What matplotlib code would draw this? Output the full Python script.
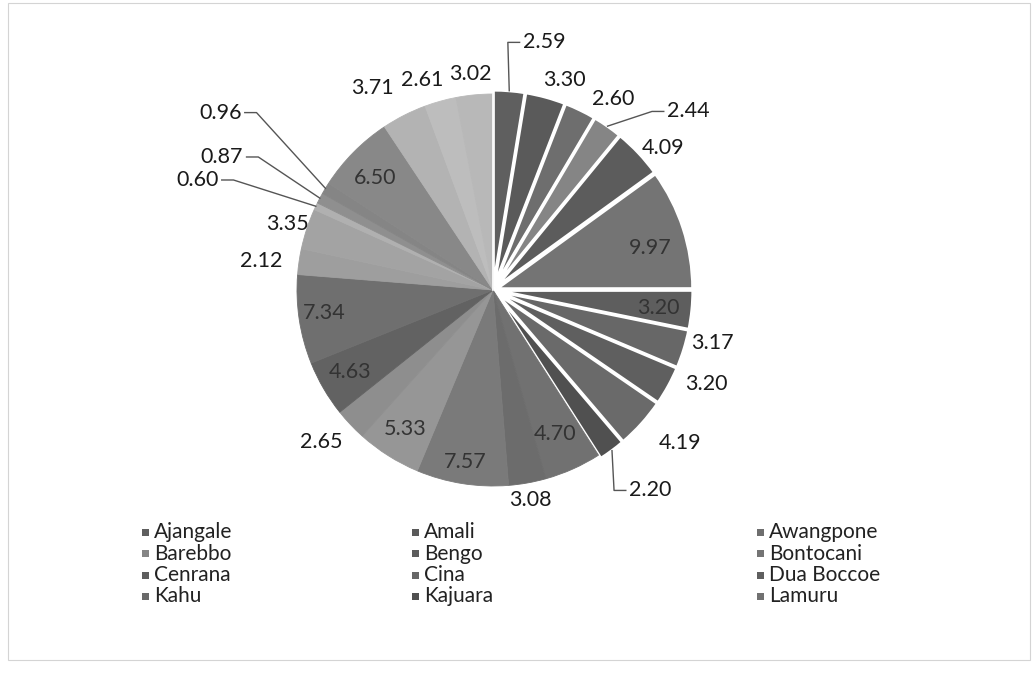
import numpy as np
import matplotlib.pyplot as plt
from matplotlib.patches import Rectangle

plt.rcParams['font.family'] = ['Lato', 'DejaVu Sans']

# share per kecamatan (%), clockwise from 12 o'clock
kecamatan = ['Ajangale', 'Amali', 'Awangpone', 'Barebbo', 'Bengo', 'Bontocani',
             'Cenrana', 'Cina', 'Dua Boccoe', 'Kahu', 'Kajuara', 'Lamuru',
             'Lappariaja', 'Libureng', 'Mare', 'Palakka', 'Patimpeng', 'Ponre',
             'Salomekko', 'Sibulue', 'Tanete Riattang', 'Tanete Riattang Barat',
             'Tanete Riattang Timur', 'Tellu Limpoe', 'Tellu Siattinge',
             'Tonra', 'Ulaweng']
persen = [2.59, 3.30, 2.60, 2.44, 4.09, 9.97, 3.20, 3.17, 3.20, 4.19, 2.20,
          4.70, 3.08, 7.57, 5.33, 2.65, 4.63, 7.34, 2.12, 3.35, 0.60, 0.87,
          0.96, 6.50, 3.71, 2.61, 3.02]
n_legend = 12

warna = ['#5f5f5f', '#5a5a5a', '#6e6e6e', '#858585', '#5c5c5c', '#747474',
         '#5e5e5e', '#676767', '#5f5f5f', '#6a6a6a', '#505050', '#717171',
         '#6c6c6c', '#7a7a7a', '#969696', '#8e8e8e', '#626262', '#6f6f6f',
         '#9e9e9e', '#a3a3a3', '#b0b0b0', '#8f8f8f', '#858585', '#888888',
         '#b3b3b3', '#bdbdbd', '#b8b8b8']

# label layout: radius (x pie radius), angle shift (deg), inside?, leader?
lbl_r = [1.29, 1.13, 1.15, 1.35, 1.13, 0.83, 0.85, 1.15, 1.19, 1.23, 1.30,
         0.80, 1.09, 0.89, 0.84, 1.17, 0.84, 0.87, 1.19, 1.10, 1.61, 1.54,
         1.66, 0.83, 1.20, 1.13, 1.11]
lbl_da = [7.0, 3.6, 6.2, 12.6, 3.3, 3.0, 0.5, -3.7, -5.0, -2.7, -1.6,
          0.7, 0.1, 0.2, 0.0, 1.8, 0.2, 0.9, -1.1, -0.4, -4.9, -1.8,
          1.8, -1.1, -4.0, -3.1, -0.6]
di_dalam = [5, 6, 11, 13, 14, 16, 17, 23]
pakai_garis = [0, 3, 10, 20, 21, 22]
n_pecah = 11

W, H = 1035, 674
cx, cy, R = 493, 290, 196

fig = plt.figure(figsize=(W / 100, H / 100), dpi=100)
ax = fig.add_axes([0, 0, 1, 1])

explode = [0.02 if i < n_pecah else 0 for i in range(len(persen))]
wedges, _ = ax.pie(persen, colors=warna, startangle=90, counterclock=False,
                   explode=explode, radius=1)
for i, w in enumerate(wedges):
    if i < n_pecah:
        w.set_edgecolor('white')
        w.set_linewidth(2.2)
    else:
        w.set_edgecolor(warna[i])
        w.set_linewidth(0.6)
# white seam between the last slice and the first
ax.plot([0, 0], [0, 1.0], color='white', lw=1.2)

total = sum(persen)
cum = np.cumsum([0] + persen[:-1])
half_w = 0.115
stub = 0.07
for i, v in enumerate(persen):
    mid = 360 * (cum[i] + v / 2) / total
    th = np.radians(mid + lbl_da[i])
    x, y = lbl_r[i] * np.sin(th), lbl_r[i] * np.cos(th)
    warna_teks = '#333333' if i in di_dalam else '#1a1a1a'
    ax.text(x, y, f'{v:.2f}', ha='center', va='center', fontsize=15.5,
            color=warna_teks)
    if i in pakai_garis:
        sisi = 1 if x > 0 else -1
        tm = np.radians(mid)
        re = 1 + explode[i]
        ex, ey = re * np.sin(tm), re * np.cos(tm)
        ax_ = x - sisi * half_w
        ax.plot([ex, ax_ - sisi * stub, ax_ - sisi * 0.01], [ey, y, y],
                color='#555555', lw=1.0)

ax.set_xlim(-cx / R, (W - cx) / R)
ax.set_ylim(-(H - cy) / R, cy / R)
ax.set_aspect('equal')
ax.axis('off')

# legend, three columns filled row by row
kol_x = [145, 415, 760]
baris_y = [532, 553.5, 575, 596.5]
sz = 7
for i in range(n_legend):
    r, c = divmod(i, 3)
    px, py = kol_x[c], baris_y[r]
    fig.patches.append(Rectangle(((px - sz / 2) / W, 1 - (py + sz / 2) / H),
                                 sz / W, sz / H, transform=fig.transFigure,
                                 facecolor=warna[i], edgecolor='none'))
    fig.text((px + 9) / W, 1 - py / H, kecamatan[i], ha='left', va='center',
             fontsize=15, color='#222222')

# chart area border
fig.patches.append(Rectangle((8 / W, 1 - 660 / H), 1022 / W, 657 / H,
                             transform=fig.transFigure, fill=False,
                             edgecolor='#d4d4d4', lw=0.8))

fig.savefig('out.png', dpi=100, facecolor='white')
